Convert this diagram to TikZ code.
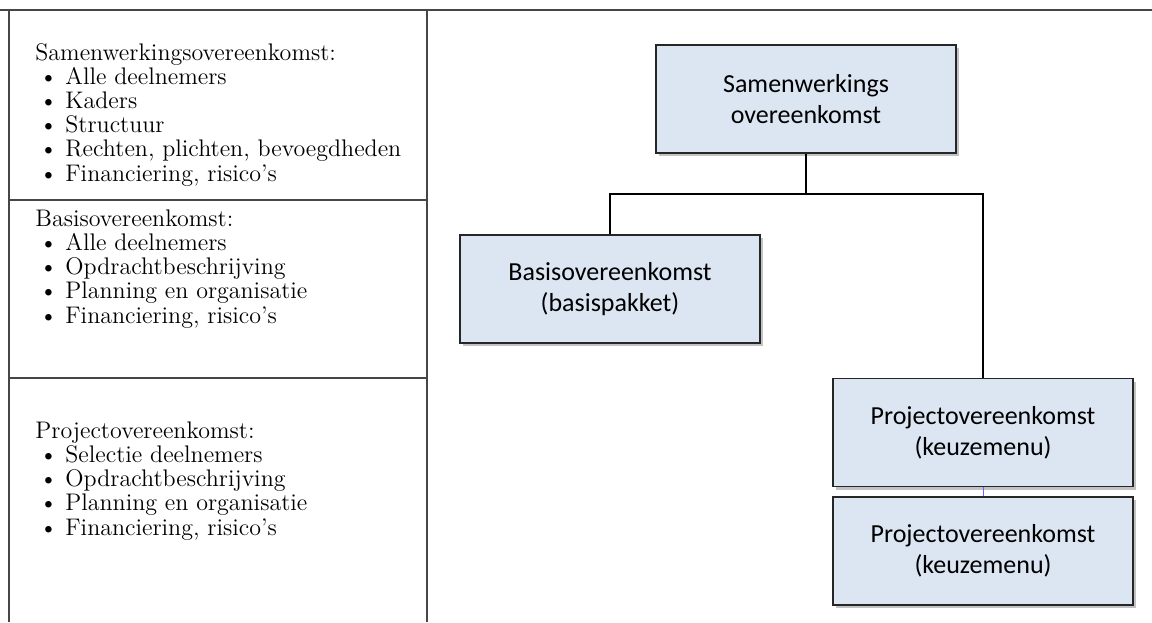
\documentclass[tikz,border=0pt]{standalone}
\usepackage{fontspec}
\newfontfamily\boxfont{Carlito}
\usepackage{tikz}
\usetikzlibrary{positioning,shadows}
\definecolor{boxblue}{RGB}{220,230,242}
\definecolor{rulegray}{RGB}{70,70,70}

% one bullet line of the left column
\newcommand{\itm}[1]{\\\hspace*{2pt}\makebox[13pt][l]{\textbullet}#1}

\begin{document}
\begin{tikzpicture}[
    x=0.5pt, y=-0.5pt,
    agreement/.style={draw=black!85, line width=0.9pt, fill=boxblue, minimum width=150pt, minimum height=54pt, align=center, font=\boxfont\fontsize{13}{15.5}\selectfont, drop shadow={shadow xshift=1.6pt, shadow yshift=-1.6pt, opacity=0.4, fill=black!60}},
    listtext/.style={anchor=base west, align=left, inner sep=0pt, font=\fontsize{12}{12.1}\selectfont},
    cellrule/.style={rulegray, line width=0.8pt},
    link/.style={black, line width=0.7pt}
]
    \useasboundingbox (0,0) rectangle (1152,622);

    % Table lines
    \draw[cellrule] (0,10) -- (1152,10);
    \draw[cellrule] (9,10) -- (9,622);
    \draw[cellrule, line width=1pt] (427,10) -- (427,622);
    \draw[cellrule] (9,200) -- (427,200);
    \draw[cellrule] (9,378) -- (427,378);

    % Left column (placed by the baseline of the last line)
    \node[listtext] (samenlist) at (35,181) {Samenwerkingsovereenkomst:\itm{Alle deelnemers}\itm{Kaders}\itm{Structuur}\itm{Rechten, plichten, bevoegdheden}\itm{Financiering, risico's}};
    \node[listtext] (basislist) at (35,323) {Basisovereenkomst:\itm{Alle deelnemers}\itm{Opdrachtbeschrijving}\itm{Planning en organisatie}\itm{Financiering, risico's}};
    \node[listtext] (projlist) at (35,535) {Projectovereenkomst:\itm{Selectie deelnemers}\itm{Opdrachtbeschrijving}\itm{Planning en organisatie}\itm{Financiering, risico's}};

    % Agreements
    \node[agreement] (samen) at (806,99) {Samenwerkings\\overeenkomst};
    \node[agreement] (basis) at (610,289) {Basisovereenkomst\\(basispakket)};
    \node[agreement] (proj1) at (983,432.5) {Projectovereenkomst\\(keuzemenu)};
    \node[agreement] (proj2) at (983,551) {Projectovereenkomst\\(keuzemenu)};

    % Connections
    \coordinate (split) at (806,194);
    \draw[link] (samen.south) -- (split);
    \draw[link] (split) -| (basis.north);
    \draw[link] (split) -| (proj1.north);
    \draw[blue!60, line width=0.4pt] (proj1.south) -- (proj2.north);
\end{tikzpicture}
\end{document}
